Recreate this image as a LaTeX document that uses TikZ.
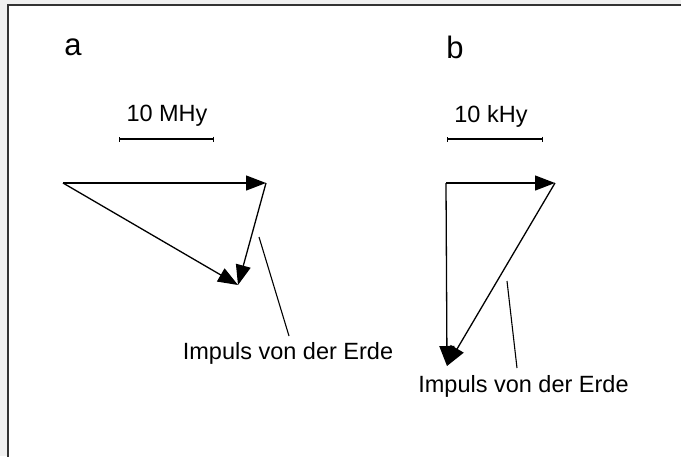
\documentclass[tikz,border=0pt]{standalone}
\usepackage{fontspec}
\setmainfont{Liberation Sans}
\usetikzlibrary{arrows.meta}
\begin{document}
\begin{tikzpicture}[x=1pt,y=-1pt,
  vec/.style={line width=1.3pt,-{Triangle[length=20pt,width=15pt]}},
  pointer/.style={line width=1.1pt},
  scalebar/.style={line width=1.3pt,{Bar[width=5pt]}-{Bar[width=5pt]}},
  lbl/.style={inner sep=0pt,font=\fontsize{23.5}{27}\selectfont},
  panel/.style={inner sep=0pt,font=\fontsize{31}{35}\selectfont}]
  % page and frame
  \useasboundingbox (0,0) rectangle (681,456);
  \fill[gray!12] (0,0) rectangle (681,456);
  \draw[line width=2pt,black!80,fill=white] (7.5,5) rectangle (700,480);

  % panel a
  \node[panel] (la) at (73,47) {a};
  \node[lbl] (sa) at (167,116) {10 MHy};
  \coordinate (sa1) at (119,139);
  \coordinate (sa2) at (214,139);
  \draw[scalebar] (sa1) -- (sa2);
  \coordinate (A) at (63,183);
  \coordinate (B) at (266,183);
  \coordinate (C) at (238,285);
  \draw[vec] (A) -- (B);
  \draw[vec] (B) -- (C);
  \draw[vec] (A) -- (C);
  \node[lbl] (ea) at (288,353) {Impuls von der Erde};
  \coordinate (pa) at (259,237);
  \coordinate (qa) at (289,336);
  \draw[pointer] (pa) -- (qa);

  % panel b
  \node[panel] (lb) at (455,47) {b};
  \node[lbl] (sb) at (491,116) {10 kHy};
  \coordinate (sb1) at (447,139);
  \coordinate (sb2) at (543,139);
  \draw[scalebar] (sb1) -- (sb2);
  \coordinate (D) at (446,183);
  \coordinate (E) at (555,183);
  \coordinate (F) at (447,366);
  \draw[vec] (D) -- (E);
  \draw[vec] (D) -- (F);
  \draw[vec] (E) -- (F);
  \node[lbl] (eb) at (523.5,386) {Impuls von der Erde};
  \coordinate (pb) at (507,281);
  \coordinate (qb) at (517,368);
  \draw[pointer] (pb) -- (qb);
\end{tikzpicture}
\end{document}
